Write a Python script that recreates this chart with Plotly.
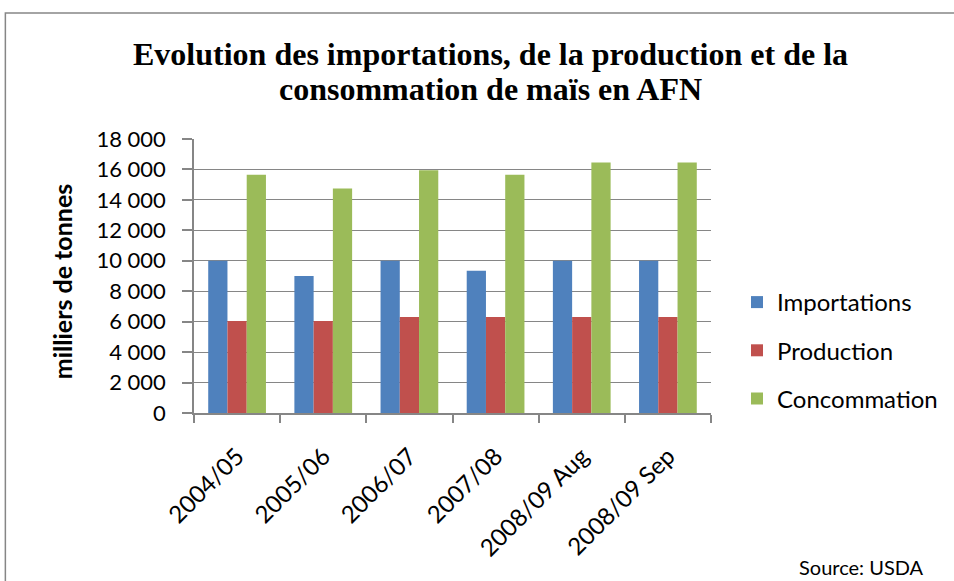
import plotly.graph_objects as go

categories = ["2004/05", "2005/06", "2006/07", "2007/08", "2008/09 Aug", "2008/09 Sep"]
importations = [10000, 9000, 10000, 9350, 10000, 10000]
production = [6050, 6050, 6300, 6300, 6300, 6300]
consommation = [15650, 14750, 15950, 15650, 16450, 16450]
y_ticks = [0, 2000, 4000, 6000, 8000, 10000, 12000, 14000, 16000, 18000]
title_lines = [
    "Evolution des importations, de la production et de la",
    "consommation de maïs en AFN",
]

series = [
    ("Importations", importations, "#4F81BD"),
    ("Production", production, "#C0504D"),
    ("Concommation", consommation, "#9BBB59"),
]

fig = go.Figure()
for name, vals, color in series:
    fig.add_trace(go.Bar(
        x=categories, y=vals, name=name, legendgroup=name,
        marker=dict(color=color, line=dict(width=0)),
    ))

W, H = 954, 581
# plot area in reference pixel coords
L, R, T, B = 194, 712, 139, 413
ml, mr, mt, mb = L, W - R, T, H - B
pw, ph = W - ml - mr, H - mt - mb

def px(x):
    return (x - ml) / pw

def py(y):
    return (H - mb - y) / ph

annotations = []
for line, yc in zip(title_lines, [54, 89]):
    annotations.append(dict(
        text=f"<b>{line}</b>", xref="paper", yref="paper",
        x=px(491), y=py(yc), xanchor="center", yanchor="middle",
        showarrow=False,
        font=dict(family="Liberation Serif, Times New Roman, serif", size=32, color="black"),
    ))
annotations += [
    dict(text="<b>milliers de tonnes</b>", xref="paper", yref="paper",
         x=px(62), y=py(282), xanchor="center", yanchor="middle",
         textangle=-90, showarrow=False, font=dict(size=25)),
    dict(text="Source: USDA", xref="paper", yref="paper",
         x=px(927), y=py(567), xanchor="right", yanchor="middle",
         showarrow=False, font=dict(size=20)),
]

fig.update_layout(
    width=W, height=H,
    margin=dict(l=ml, r=mr, t=mt, b=mb, pad=0),
    paper_bgcolor="white", plot_bgcolor="white",
    barmode="group", bargap=0.33, bargroupgap=0,
    separators=", ",
    font=dict(family="Lato, Open Sans, sans-serif", color="black"),
    legend=dict(
        x=px(737), xanchor="left", y=py(280), yanchor="top",
        font=dict(size=24, family="Lato, Open Sans, sans-serif"),
        tracegroupgap=14, traceorder="grouped",
        bgcolor="rgba(0,0,0,0)",
    ),
    xaxis=dict(
        showline=True, linecolor="#868686", linewidth=1.5,
        ticks="outside", ticklen=8, tickcolor="#868686", tickwidth=1.5,
        tickson="boundaries", tickangle=-45,
        tickfont=dict(size=24), ticklabelstandoff=18,
        showgrid=False,
    ),
    yaxis=dict(
        range=[0, 18000], tickvals=y_ticks, tickformat=",d",
        showline=True, linecolor="#868686", linewidth=1.5,
        ticks="outside", ticklen=10, tickcolor="#868686", tickwidth=1.5,
        showgrid=True, gridcolor="#868686", gridwidth=1.3,
        tickfont=dict(size=22), ticklabelstandoff=12,
        zeroline=False,
    ),
    shapes=[
        dict(type="rect", xref="paper", yref="paper",
             x0=px(5), x1=px(970), y0=py(600), y1=py(13),
             line=dict(color="#868686", width=1.5), fillcolor="rgba(0,0,0,0)", layer="below"),
    ],
    annotations=annotations,
)

fig.write_html("out.html", config={"displayModeBar": False},
               post_script="document.body.style.margin='0px';")
